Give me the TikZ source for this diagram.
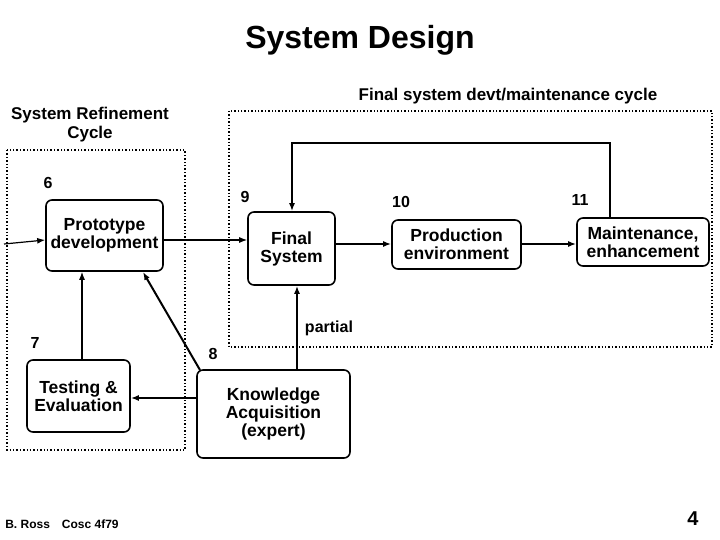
\documentclass[tikz,border=0pt]{standalone}
\usepackage{fontspec}
\setmainfont{Liberation Sans}
\usetikzlibrary{arrows.meta}
\begin{document}
\begin{tikzpicture}[x=1pt,y=-1pt,>={Latex[length=8pt,width=6pt]},
  box/.style={draw,line width=1.6pt,rounded corners=6pt,align=center,inner sep=0pt,font=\bfseries\fontsize{17.5}{18}\selectfont},
  cyc/.style={draw,dotted,line width=1.4pt},
  num/.style={font=\bfseries\fontsize{16}{17}\selectfont},
  lbl/.style={font=\bfseries\fontsize{17}{19}\selectfont,align=center},
  flow/.style={->,line width=1.2pt},
  thick flow/.style={->,line width=2pt}]
\useasboundingbox (0,0) rectangle (720,540);

\node[font=\bfseries\fontsize{32}{34}\selectfont] (title) at (360,40) {System Design};
\node[lbl] (refcap) at (90,125) {System Refinement\\Cycle};
\node[lbl] (fincap) at (508,96) {Final system devt/maintenance cycle};

\draw[cyc] (7,150) rectangle (185,450);
\draw[cyc] (229,111) rectangle (712,347);

\node[box,minimum width=117pt,minimum height=71pt] (proto) at (104.5,235.5) {Prototype\\development};
\node[box,minimum width=87pt,minimum height=73pt] (final) at (291.5,248.5) {Final\\System};
\node[box,minimum width=129pt,minimum height=49pt] (prod) at (456.5,244.5) {Production\\environment};
\node[box,minimum width=132pt,minimum height=48pt] (maint) at (643,242) {Maintenance,\\enhancement};
\node[box,minimum width=103pt,minimum height=72pt] (test) at (78.5,396) {Testing \&\\Evaluation};
\node[box,minimum width=153pt,minimum height=88pt] (know) at (273.5,414) {Knowledge\\Acquisition\\(expert)};

\node[num] (n6) at (48,183) {6};
\node[num] (n9) at (245,197) {9};
\node[num] (n10) at (401,202) {10};
\node[num] (n11) at (580,200) {11};
\node[num] (n7) at (35,343) {7};
\node[num] (n8) at (213,354) {8};
\node[num] (partial) at (329,328) {partial};

\coordinate (in) at (4,244);
\coordinate (loopR) at (610,143);
\coordinate (loopL) at (292,143);

\draw[flow] (in) -- (proto.west |- 0,240);
\draw[flow] (proto.east |- 0,240) -- (final.west |- 0,240);
\draw[thick flow] (final.east |- 0,244) -- (prod.west |- 0,244);
\draw[thick flow] (prod.east |- 0,244) -- (maint.west |- 0,244);
\draw[thick flow] (maint.north -| loopR) -- (loopR) -- (loopL) -- (final.north -| loopL);
\draw[flow] (test.north -| 82,0) -- (proto.south -| 82,0);
\draw[thick flow] (200,370) -- (143,272);
\draw[thick flow] (know.west |- 0,398) -- (test.east |- 0,398);
\draw[thick flow] (know.north -| 297,0) -- (final.south -| 297,0);

\node[font=\bfseries\fontsize{12}{13}\selectfont] (foot) at (62,524) {B. Ross\quad Cosc 4f79};
\node[font=\bfseries\fontsize{20}{21}\selectfont] (page) at (693,519) {4};
\end{tikzpicture}
\end{document}
